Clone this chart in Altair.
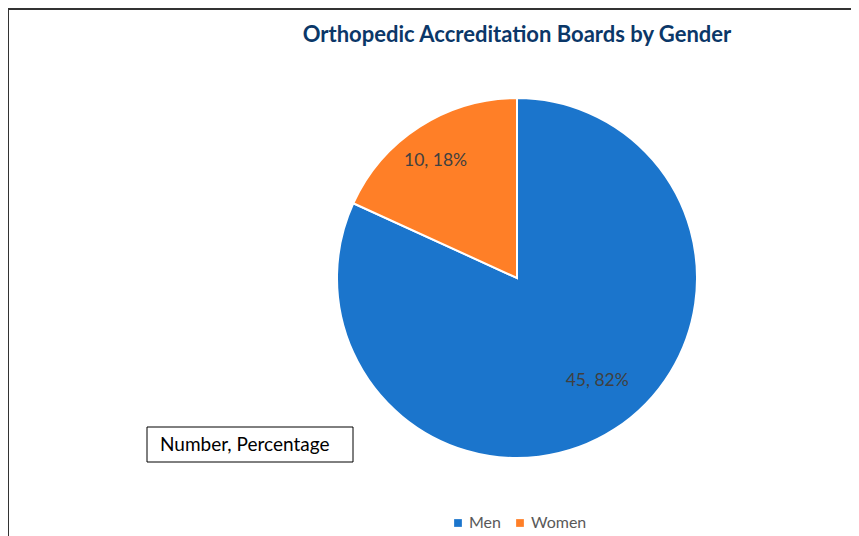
import altair as alt
import pandas as pd

genders = ["Men", "Women"]
counts = [45, 10]
colors = ["#1B75CC", "#FF7F27"]
title_text = "Orthopedic Accreditation Boards by Gender"
box_text = "Number, Percentage"

df = pd.DataFrame({"gender": genders, "count": counts})

W, H = 843, 530
CX, CY = 509, 270
FONT = "Lato"

base = alt.Chart(df).transform_joinaggregate(total="sum(count)").transform_calculate(
    label="datum.count + ', ' + format(datum.count / datum.total, '.0%')"
)

color = alt.Color(
    "gender:N",
    scale=alt.Scale(domain=genders, range=colors),
    sort=genders,
    legend=alt.Legend(
        title=None,
        orient="none",
        direction="horizontal",
        legendX=442,
        legendY=507,
        symbolType="square",
        symbolSize=60,
        symbolStrokeWidth=0,
        labelFontSize=16,
        labelColor="#595959",
        labelFont=FONT,
        columnPadding=11,
        labelOffset=3,
    ),
)

pie = base.mark_arc(outerRadius=180, stroke="white", strokeWidth=2).encode(
    theta=alt.Theta("count:Q", stack=True),
    color=color,
    order=alt.Order("gender:N", sort="ascending"),
    x=alt.value(CX),
    y=alt.value(CY),
)

stacked = base.transform_stack(
    stack="count", groupby=[], as_=["s0", "s1"], sort=[alt.SortField("gender", "ascending")]
).transform_calculate(mid="(datum.s0 + datum.s1) / 2")


def lab(g, r, dx, dy):
    return stacked.transform_filter(f"datum.gender == '{g}'").mark_text(
        radius=r, fontSize=17.5, font=FONT, color="#404040", dx=dx, dy=dy
    ).encode(
        theta=alt.Theta("mid:Q", stack=False),
        text="label:N",
        x=alt.value(CX),
        y=alt.value(CY),
    )


lab_men = lab("Men", 128, 11, -5)
lab_women = lab("Women", 145, -3, 5)

ann = pd.DataFrame({"t": [title_text]})
title = alt.Chart(ann).mark_text(
    fontSize=22, fontWeight="bold", font=FONT, color="#0B3768", align="center", baseline="middle"
).encode(text="t:N", x=alt.value(509), y=alt.value(27))

box = alt.Chart(pd.DataFrame({"t": [box_text]})).mark_rect(
    fill="white", stroke="black", strokeWidth=1
).encode(x=alt.value(139), x2=alt.value(345), y=alt.value(419), y2=alt.value(454))

box_label = alt.Chart(pd.DataFrame({"t": [box_text]})).mark_text(
    fontSize=19, font=FONT, color="black", align="left", baseline="middle"
).encode(text="t:N", x=alt.value(152), y=alt.value(437))

top_line = alt.Chart(ann).mark_rule(color="#333333", strokeWidth=2).encode(
    x=alt.value(0), x2=alt.value(W), y=alt.value(1)
)
left_line = alt.Chart(ann).mark_rule(color="#333333", strokeWidth=2).encode(
    x=alt.value(0), y=alt.value(0), y2=alt.value(H)
)

chart = alt.layer(pie, lab_men, lab_women, title, box, box_label, top_line, left_line).properties(
    width=W, height=H, padding=0, autosize=alt.AutoSizeParams(type="none")
).configure_view(stroke=None).resolve_scale(theta="shared")

chart.save("out.html", embed_options={"renderer": "svg", "actions": False})
